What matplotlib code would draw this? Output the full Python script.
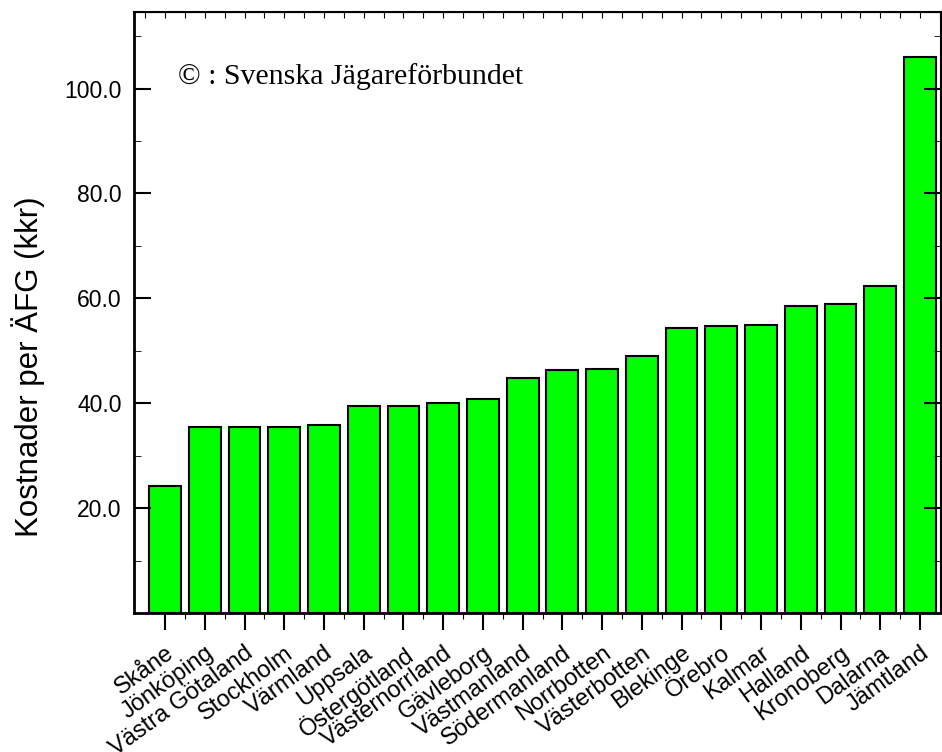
#!/usr/bin/env python3
"""
Kostnader per AFG per lan - bar chart.
"""

import matplotlib
matplotlib.use("Agg")
import matplotlib.pyplot as plt
import numpy as np
from matplotlib.ticker import FormatStrFormatter, MultipleLocator

lan = ["Skåne", "Jönköping", "Västra Götaland", "Stockholm", "Värmland",
       "Uppsala", "Östergötland", "Västernorrland", "Gävleborg", "Västmanland",
       "Södermanland", "Norrbotten", "Västerbotten", "Blekinge", "Örebro",
       "Kalmar", "Halland", "Kronoberg", "Dalarna", "Jämtland"]
kostnad = [24.3, 35.4, 35.4, 35.5, 35.9,
           39.4, 39.5, 40.1, 40.8, 44.9,
           46.4, 46.6, 49.0, 54.4, 54.8,
           55.0, 58.5, 58.9, 62.4, 106.0]

plt.rcParams["font.family"] = ["Liberation Sans", "DejaVu Sans"]

fig = plt.figure(figsize=(9.42, 7.52), dpi=100)
ax = fig.add_axes([0.1423, 0.1848, 0.8567, 0.7992])

x = np.arange(len(lan))
ax.bar(x, kostnad, width=0.8, color="#00ff00", edgecolor="black", linewidth=1.5)

ax.set_xlim(-0.78, len(lan) - 0.47)
ax.set_ylim(0, 114.6)

# y axis
ax.yaxis.set_minor_locator(MultipleLocator(10))
ax.yaxis.set_major_formatter(FormatStrFormatter("%.1f"))
ax.set_yticks([20, 40, 60, 80, 100])
ax.tick_params(axis="y", which="major", direction="in", length=12, width=1.5,
               right=True, labelsize=16.5, pad=9)
ax.tick_params(axis="y", which="minor", direction="in", length=5, width=0.6,
               right=True)
ax.set_ylabel("Kostnader per ÄFG (kkr)", fontsize=22.5)
ax.yaxis.set_label_coords(-0.11, 0.41)

# x axis
ax.set_xticks(x)
ax.set_xticks(x[:-1] + 0.5, minor=True)
ax.set_xticklabels(lan, rotation=36, ha="right", rotation_mode="anchor",
                   fontsize=17)
ax.tick_params(axis="x", which="major", direction="out", length=12, width=1.5,
               pad=9)
ax.tick_params(axis="x", which="minor", direction="out", length=4, width=0.8)

# top spine ticks, pointing inwards
top = ax.secondary_xaxis("top")
top.set_xticks(np.arange(-0.5, len(lan), 0.5))
top.tick_params(direction="in", length=4, width=0.8, labeltop=False)

for side in ax.spines.values():
    side.set_linewidth(1.5)
ax.spines["left"].set_linewidth(2)
ax.spines["bottom"].set_linewidth(2)

ax.text(0.055, 0.88, "© : Svenska Jägareförbundet", transform=ax.transAxes,
        fontsize=21.5, family=["Liberation Serif", "DejaVu Serif"])

fig.savefig("out.png", dpi=100)
